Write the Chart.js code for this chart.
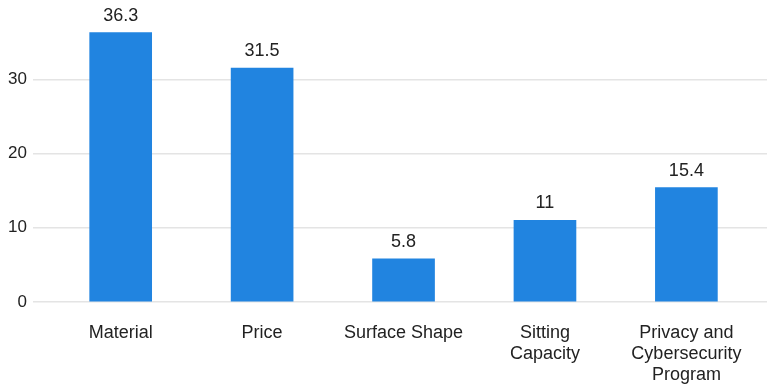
<!DOCTYPE html>
<html>
<head>
<meta charset="utf-8">
<script src="https://cdn.jsdelivr.net/npm/chart.js@4/dist/chart.umd.min.js"></script>
<style>
  html, body { margin: 0; padding: 0; background: #fff; }
  #wrap { width: 767px; height: 384px; position: relative; }
</style>
</head>
<body>
<div id="wrap"><canvas id="c"></canvas></div>
<script>
// Factors and their shares
const categories = [
  ['Material'],
  ['Price'],
  ['Surface Shape'],
  ['Sitting', 'Capacity'],
  ['Privacy and', 'Cybersecurity', 'Program']
];
const values = [36.3, 31.5, 5.8, 11, 15.4];
const valueLabels = ['36.3', '31.5', '5.8', '11', '15.4'];
const yTicks = [0, 10, 20, 30];

const FONT = '"Liberation Sans", Arial, sans-serif';
const TEXT = '#222222';
const BAR = '#2184E0';
const GRID = '#e4e4e4';

// Value printed above each bar
const barLabels = {
  id: 'barLabels',
  afterDatasetsDraw(chart) {
    const ctx = chart.ctx;
    const meta = chart.getDatasetMeta(0);
    ctx.save();
    ctx.font = '18px ' + FONT;
    ctx.fillStyle = TEXT;
    ctx.textAlign = 'center';
    ctx.textBaseline = 'alphabetic';
    meta.data.forEach((bar, i) => {
      ctx.fillText(valueLabels[i], bar.x, bar.y - 12);
    });
    ctx.restore();
  }
};

new Chart(document.getElementById('c'), {
  type: 'bar',
  data: {
    datasets: [{
      data: values.map((v, i) => ({ x: i, y: v })),
      backgroundColor: BAR,
      borderWidth: 0,
      barThickness: 62
    }]
  },
  options: {
    responsive: true,
    maintainAspectRatio: false,
    animation: false,
    layout: { padding: { top: 0, right: 0, left: 0, bottom: 0 } },
    plugins: { legend: { display: false }, tooltip: { enabled: false } },
    scales: {
      x: {
        type: 'linear',
        min: -0.62,
        max: 4.57,
        offset: false,
        afterBuildTicks(scale) {
          scale.ticks = categories.map((_, i) => ({ value: i }));
        },
        afterFit(scale) { scale.height = 82; },
        grid: { display: false, drawTicks: false },
        border: { display: false },
        ticks: {
          autoSkip: false,
          maxRotation: 0,
          padding: 21,
          color: TEXT,
          font: { family: FONT, size: 18, lineHeight: 1.15 },
          callback: (v) => categories[v]
        }
      },
      y: {
        min: 0,
        max: 38.5,
        afterBuildTicks(scale) {
          scale.ticks = yTicks.map(v => ({ value: v }));
        },
        afterFit(scale) { scale.width = 33; },
        grid: { color: GRID, lineWidth: 1.5, drawTicks: false },
        border: { display: false },
        ticks: {
          padding: 6,
          color: TEXT,
          font: { family: FONT, size: 17 }
        }
      }
    }
  },
  plugins: [barLabels]
});
</script>
</body>
</html>
